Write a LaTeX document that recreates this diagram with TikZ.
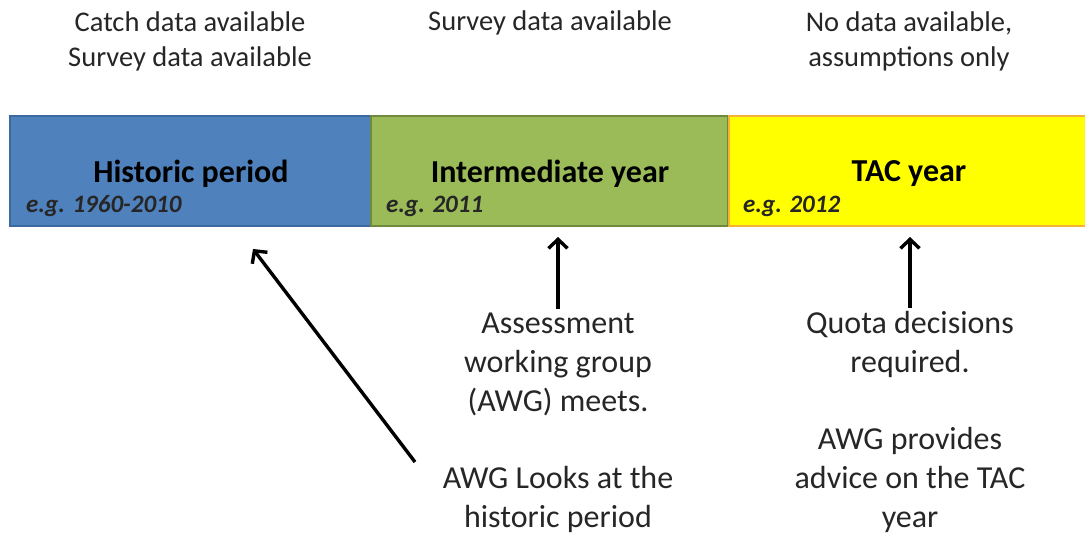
\documentclass[tikz,border=0pt]{standalone}
\usepackage{fontspec}
\setmainfont{Carlito}
\usetikzlibrary{arrows.meta}
\definecolor{hblue}{HTML}{4F81BD}
\definecolor{hblueb}{HTML}{3C6A9E}
\definecolor{igreen}{HTML}{9BBB59}
\definecolor{igreenb}{HTML}{71893F}
\definecolor{tyellow}{HTML}{FFFF00}
\definecolor{tyellowb}{HTML}{F5B335}
\definecolor{txt}{HTML}{262626}
\tikzset{
  period/.style={minimum height=110pt, inner sep=0pt, outer sep=0pt, line width=1.5pt},
  title/.style={font=\fontsize{32}{38}\selectfont\bfseries, text=black, inner sep=0pt},
  eg/.style={font=\fontsize{25}{30}\selectfont\bfseries\itshape, text=txt, anchor=west, inner sep=0pt},
  toplab/.style={font=\fontsize{28.5}{35}\selectfont, text=txt, align=center, inner sep=0pt},
  botlab/.style={font=\fontsize{32}{39}\selectfont, text=txt, align=center, inner sep=0pt},
  arr/.style={line width=3.4pt, -{Straight Barb[length=9pt,width=19pt,line width=3.4pt]}}
}
\begin{document}
\begin{tikzpicture}[x=1pt,y=-1pt]
\useasboundingbox (0,0) rectangle (1085,538);
% bar
\node[period, fill=hblue, draw=hblueb, minimum width=361pt, anchor=north west] (hist) at (10,116) {};
\node[period, fill=igreen, draw=igreenb, minimum width=357pt, anchor=north west] (inter) at (371,116) {};
\node[period, fill=tyellow, minimum width=356pt, anchor=north west] (tac) at (729,116) {};
\draw[tyellowb, line width=1.5pt] (tac.north east) -- (tac.north west) -- (tac.south west) -- (tac.south east);
% titles
\node[title] (histt) at (191,174) {Historic period};
\node[title] (intert) at (550,174) {Intermediate year};
\node[title] (tact) at (909,174) {TAC year};
\node[eg] (histeg) at (26,206) {e.g. 1960-2010};
\node[eg] (intereg) at (386,206) {e.g. 2011};
\node[eg] (taceg) at (743,206) {e.g. 2012};
% top labels
\node[toplab] (toph) at (190,41) {Catch data available\\Survey data available};
\node[toplab] (topi) at (550,23) {Survey data available};
\node[toplab] (topt) at (909,41) {No data available,\\assumptions only};
% bottom labels
\node[botlab] (awg) at (558,364) {Assessment\\working group\\(AWG) meets.};
\node[botlab] (looks) at (558,499) {AWG Looks at the\\historic period};
\node[botlab] (quota) at (910,344) {Quota decisions\\required.};
\node[botlab] (adv) at (910,480) {AWG provides\\advice on the TAC\\year};
% arrows
\coordinate (hA) at (253,249);
\coordinate (iA) at (558,237);
\coordinate (tA) at (910,237);
\coordinate (hS) at (415,462);
\draw[arr] (hS) -- (hA);
\draw[arr] (awg.north) ++(0,-3) -- (iA);
\draw[arr] (quota.north) ++(0,-3) -- (tA);
\end{tikzpicture}
\end{document}
